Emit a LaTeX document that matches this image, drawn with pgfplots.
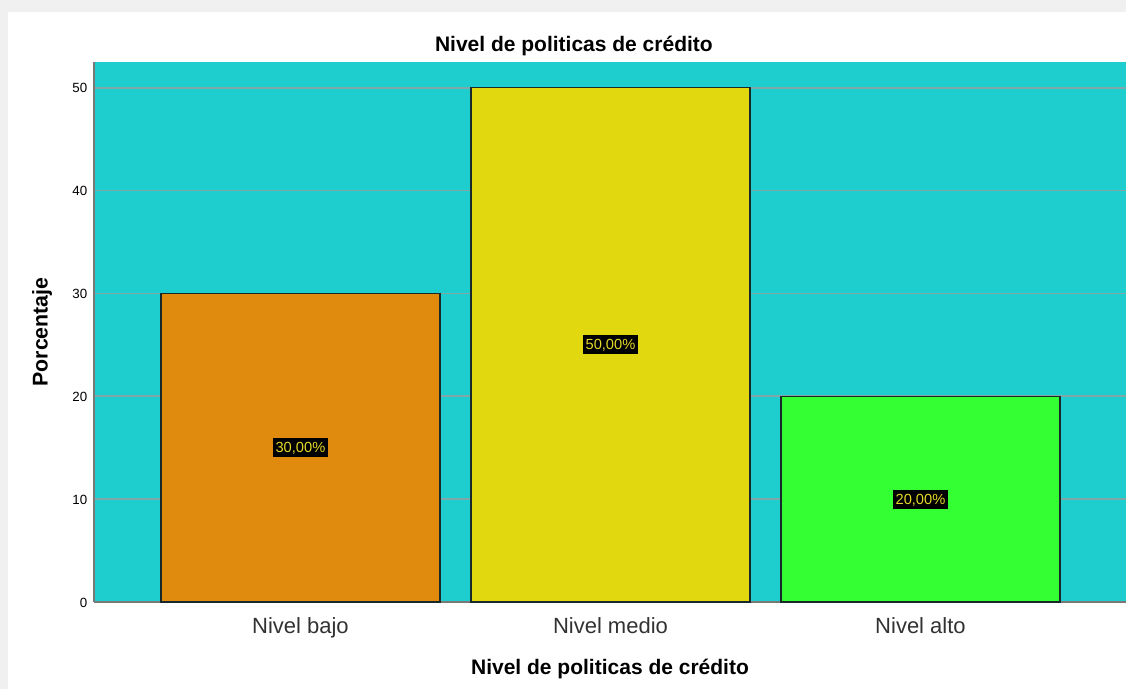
\documentclass[border=0pt]{standalone}
\usepackage{pgfplots}
\pgfplotsset{compat=1.18}
\usepackage{fontspec}
\setmainfont{Liberation Sans}
\definecolor{bgcyan}{RGB}{30,206,206}
\definecolor{gridc}{RGB}{128,168,168}
\definecolor{axgray}{RGB}{120,120,120}
\definecolor{barorange}{RGB}{224,138,14}
\definecolor{baryellow}{RGB}{225,216,15}
\definecolor{bargreen}{RGB}{51,255,51}
\definecolor{labyellow}{RGB}{228,216,40}
\definecolor{tickc}{RGB}{50,50,50}
\definecolor{framegray}{RGB}{240,240,240}
\definecolor{barline}{RGB}{25,40,40}
\begin{document}
\begin{tikzpicture}
\fill[framegray] (-70.5pt,-65.25pt) rectangle (774pt,451.5pt);
\fill[white] (-64.5pt,-65.25pt) rectangle (774pt,442.5pt);
\begin{axis}[
  at={(0,0)}, anchor=south west,
  scale only axis, width=774pt, height=405pt,
  xmin=-0.666, xmax=2.663, ymin=0, ymax=52.5,
  xtick={0,1,2}, xticklabels={Nivel bajo, Nivel medio, Nivel alto},
  ytick={0,10,20,30,40,50},
  axis background/.style={fill=bgcyan},
  ymajorgrids, grid style={gridc, line width=1.2pt},
  axis x line*=bottom, axis y line*=left,
  axis line style={-, draw=axgray, line width=1.2pt},
  major tick length=0pt,
  /pgf/number format/assume math mode=true,
  x tick label style={font=\fontsize{16.5}{18}\selectfont, text=tickc, anchor=base, yshift=-23.25pt},
  y tick label style={font=\fontsize{10}{12}\selectfont, text=black, anchor=east, xshift=-1.5pt, yshift=-0.5pt},
  xlabel={Nivel de politicas de crédito},
  xlabel style={font=\bfseries\fontsize{15.75}{18}\selectfont, at={(axis description cs:0.5,-0.1352)}, anchor=base, yshift=0.75pt},
  ylabel={Porcentaje},
  ylabel style={font=\bfseries\fontsize{16}{18}\selectfont, at={(axis description cs:-0.0504,0.5)}, anchor=center, rotate=0},
  title={Nivel de politicas de crédito},
  title style={font=\bfseries\fontsize{15.75}{18}\selectfont, at={(axis description cs:0.465,1.0185)}, anchor=base, yshift=-5.25pt},
  clip=false,
]
\addplot[ybar, bar width=0.9, bar shift=0pt, fill=barorange, draw=barline, line width=1pt] coordinates {(0,30)};
\addplot[ybar, bar width=0.9, bar shift=0pt, fill=baryellow, draw=barline, line width=1pt] coordinates {(1,50)};
\addplot[ybar, bar width=0.9, bar shift=0pt, fill=bargreen, draw=barline, line width=1pt] coordinates {(2,20)};
\addplot[draw=none, mark=none, nodes near coords, point meta=explicit symbolic,
  nodes near coords align=center,
  every node near coord/.append style={anchor=center, fill=black, text=labyellow,
    font=\fontsize{11}{12}\selectfont, inner xsep=2pt, inner ysep=3pt, text height=8pt, text depth=0.3pt}]
  coordinates {(0,15) [30,00\%] (1,25) [50,00\%] (2,10) [20,00\%]};
\end{axis}
\pgfresetboundingbox
\path (-70.5pt,-65.25pt) rectangle (774pt,451.5pt);
\end{tikzpicture}
\end{document}
